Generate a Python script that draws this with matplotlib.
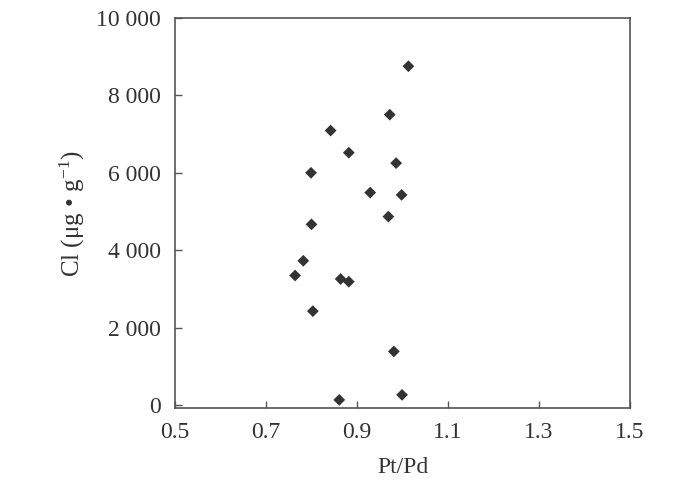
import matplotlib
matplotlib.use("Agg")
import matplotlib.pyplot as plt
from matplotlib.ticker import FuncFormatter

pt_pd = [1.013, 0.972, 0.842, 0.882, 0.986, 0.799, 0.929, 0.998, 0.969,
         0.800, 0.782, 0.764, 0.864, 0.882, 0.803, 0.981, 0.999, 0.861]
cl = [8750, 7500, 7090, 6520, 6250, 6000, 5490, 5430, 4870,
      4670, 3730, 3350, 3260, 3190, 2430, 1390, 270, 140]
x_ticks = [0.5, 0.7, 0.9, 1.1, 1.3, 1.5]
y_ticks = [0, 2000, 4000, 6000, 8000, 10000]

plt.rcParams['font.family'] = ['Liberation Serif', 'DejaVu Serif']
plt.rcParams['mathtext.fontset'] = 'stix'

fig = plt.figure(figsize=(7, 4.94), dpi=100)
ax = fig.add_axes([0.25, 0.174, 0.65, 0.79])
ax.scatter(pt_pd, cl, marker='D', s=36, color='#333333', edgecolors='none', zorder=3)

ax.set_xlim(0.5, 1.5)
ax.set_ylim(-70, 10000)
ax.set_xticks(x_ticks)
ax.set_xticklabels([f"{v:.1f}" for v in x_ticks])
ax.set_yticks(y_ticks)
ax.yaxis.set_major_formatter(FuncFormatter(lambda v, p: f"{int(v):,}".replace(",", " ")))
ax.tick_params(direction='in', length=5, width=1, colors='#555555', labelcolor='#333333',
               labelsize=17, top=False, right=False)
ax.tick_params(axis='x', pad=10)
ax.tick_params(axis='y', pad=10)
for s in ax.spines.values():
    s.set_color('#555555')
    s.set_linewidth(1.2)

ax.set_xlabel('Pt/Pd', fontsize=17, color='#333333', labelpad=10)
ax.set_ylabel(r'Cl (μg • g$^{\mathregular{-1}}$)', fontsize=18, color='#333333', labelpad=7)

fig.savefig('out.png', dpi=100)
